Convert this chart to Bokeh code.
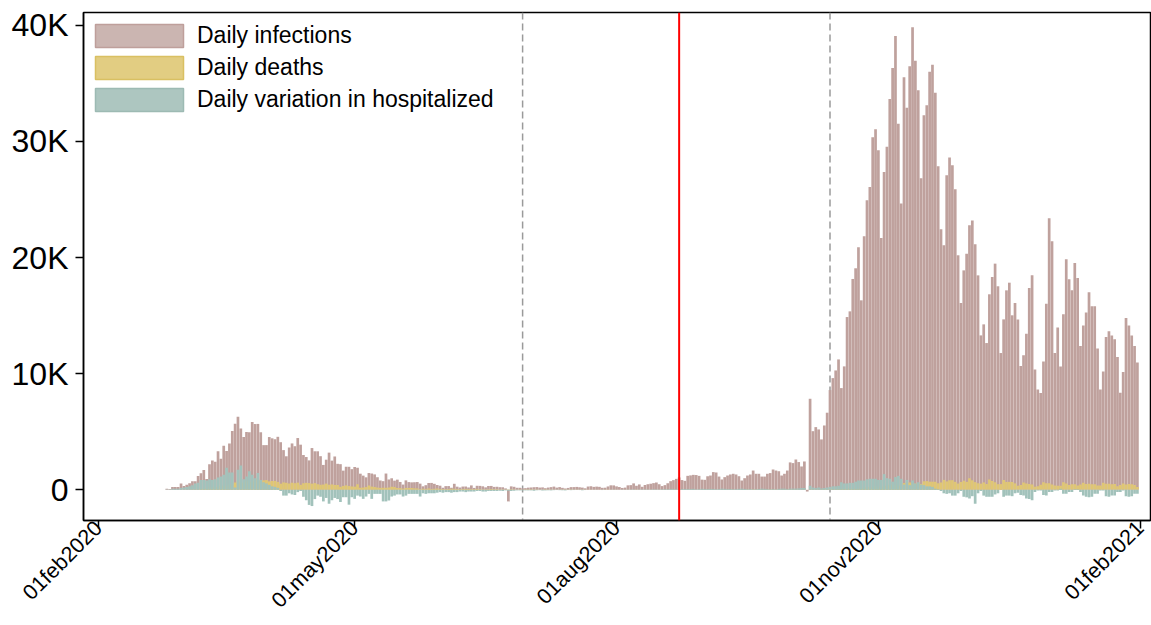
import math
import pandas as pd
from bokeh.plotting import figure
from bokeh.models import (FixedTicker, Span, Legend, LegendItem, ColumnDataSource, Range1d)
from bokeh.embed import file_html
from bokeh.resources import INLINE

# ---------------- data ----------------
START_DATE = "2020-02-25"
ORIGIN = "2020-02-01"
TICK_DATES = ["2020-02-01", "2020-05-01", "2020-08-01", "2020-11-01", "2021-02-01"]
TICK_LABELS = ["01feb2020", "01may2020", "01aug2020", "01nov2020", "01feb2021"]
Y_TICKS = [0, 10000, 20000, 30000, 40000]
Y_LABELS = ["0", "10K", "20K", "30K", "40K"]
DASHED_DATES = ["2020-06-29", "2020-10-15"]
RED_DATE = "2020-08-23"
SERIES_LABELS = ["Daily infections", "Daily deaths", "Daily variation in hospitalized"]

infections = [
    93, 78, 250, 238, 240,  # feb 25-29
    533, 330, 443, 558, 731, 739, 1185, 1417, 1707, 928, 2197, 2518, 2420, 3322, 2682, 3800,
    3350, 3997, 5056, 5687, 6300, 5282, 4550, 4987, 4950, 5845, 5661, 5675, 4956, 3848, 3850,  # mar
    4543, 4435, 4356, 4565, 4100, 3419, 2887, 3644, 3994, 3753, 4459, 3887, 2995, 2823, 2534,
    3597, 3318, 3316, 2895, 2143, 2593, 3202, 2514, 2870, 2239, 2208, 1652, 1986, 1982, 1778,  # apr
    1965, 1900, 1389, 1221, 1075, 1444, 1401, 1327, 1083, 802, 744, 1402, 888, 992, 789, 875,
    675, 451, 813, 665, 642, 652, 669, 531, 300, 397, 584, 593, 516, 416, 355,  # may
    178, 318, 321, 177, 518, 270, 197, 280, 283, 202, 379, 163, 346, 338, 301, 210, 329, 333,
    251, 262, 224, 218, 122, -1000, 296, 259, 175, 174, 126, 142,  # jun
    187, 201, 223, 235, 192, 208, 138, 193, 229, 276, 188, 234, 169, 114, 162, 230, 233, 249,
    219, 190, 129, 282, 306, 252, 275, 255, 170, 181, 289, 386, 379,  # jul
    295, 239, 159, 190, 384, 402, 552, 347, 463, 259, 412, 481, 523, 574, 629, 479, 320, 403,
    565, 744, 833, 942, 1065, 839, 773, 1203, 1242, 1287, 1271, 1201, 876,  # aug
    860, 1167, 1229, 1525, 1492, 1141, 890, 1090, 1230, 1320, 1380, 1320, 1170, 800, 1000,
    1230, 1320, 1660, 1380, 1380, 1140, 1140, 1380, 1440, 1750, 1660, 1600, 1230, 1380, 1660,  # sep
    2360, 2300, 2610, 2390, 2010, 2440, -150, 7840, 5050, 5400, 5200, 4340, 5540, 6640, 8590,
    9620, 10280, 11230, 8760, 10630, 14880, 15370, 18160, 19080, 20890, 16320, 21840, 24940,
    26090, 30370, 31060,  # oct
    29250, 21690, 27380, 29540, 33670, 36320, 39080, 31520, 24660, 35540, 32900, 36490, 39830,
    36950, 34420, 26840, 32270, 33130, 36000, 36600, 34200, 27870, 22440, 21060, 27100, 28620,
    27960, 25890, 20200, 16090,  # nov
    18900, 20340, 22780, 23200, 21150, 18470, 13300, 14250, 12640, 16840, 18330, 19480, 17530,
    11780, 14680, 17180, 17840, 15030, 16090, 14660, 10660, 11580, 13450, 17380, 18470, 10370,
    8650, 8330, 11060, 16030, 23390,  # dec
    21400, 11780, 13990, 10630, 15110, 19850, 18130, 17180, 19540, 18240, 12380, 14160, 15280,
    17010, 15800, 15800, 12180, 8650, 10200, 13160, 13650, 13300, 12960, 11430, 8360, 10140,
    14790, 14160, 13300, 12380, 10970,  # jan
]

deaths = [
    4, 1, 5, 4, 8,
    5, 18, 27, 28, 41, 49, 36, 133, 97, 168, 196, 189, 250, 175, 368, 349, 345, 475, 427, 627,
    793, 651, 601, 743, 683, 712, 919, 889, 756, 812, 837,
    727, 760, 766, 681, 525, 636, 604, 542, 610, 570, 619, 431, 566, 602, 578, 525, 575, 482,
    433, 454, 534, 437, 464, 420, 415, 260, 333, 382, 323, 285,
    269, 474, 174, 195, 236, 369, 274, 243, 194, 165, 179, 172, 195, 262, 242, 153, 145, 99,
    162, 161, 156, 130, 119, 50, 92, 78, 117, 70, 87, 111, 75,
    60, 55, 71, 88, 85, 72, 53, 65, 79, 71, 53, 56, 78, 44, 26, 34, 43, 66, 47, 49, 24, 23, 18,
    30, 34, 30, 8, 24, 6, 23,
    21, 30, 15, 21, 7, 8, 30, 15, 12, 12, 7, 9, 13, 17, 13, 20, 11, 12, 9, 13, 15, 9, 10, 5, 5,
    5, 5, 11, 11, 6, 9,
    8, 2, 5, 6, 10, 3, 3, 13, 4, 2, 6, 10, 6, 3, 6, 4, 4, 7, 6, 3, 9, 3, 7, 4, 4, 13, 5, 9, 1, 7, 4,
    6, 10, 6, 6, 7, 7, 10, 10, 10, 10, 11, 7, 7, 9, 9, 20, 10, 24, 24, 15, 14, 14, 20, 23, 20,
    17, 17, 16, 24, 24,
    23, 22, 27, 18, 16, 28, 0, 53, 28, 29, 26, 39, 41, 43, 83, 55, 47, 69, 73, 89, 127, 136, 91,
    151, 128, 141, 221, 221, 217, 199, 297,
    208, 233, 353, 352, 445, 446, 425, 331, 356, 580, 623, 636, 550, 544, 546, 504, 731, 753,
    699, 699, 692, 562, 630, 853, 722, 822, 827, 686, 541, 672,
    785, 684, 993, 814, 662, 564, 528, 634, 499, 887, 761, 649, 484, 491, 846, 680, 683, 674,
    553, 352, 415, 628, 553, 505, 459, 261, 305, 445, 659, 575, 555,
    462, 364, 347, 348, 649, 548, 414, 483, 483, 361, 448, 616, 507, 522, 475, 477, 377, 377,
    603, 524, 521, 472, 492, 299, 420, 541, 467, 492, 477, 421, 237,
]

hospitalized = [
    20, 20, 100, 100, 100,
    150, 200, 250, 300, 400, 550, 600, 850, 850, 800, 900, 850, 900, 1050, 1150, 1300, 1900,
    1500, 1500, 200, 1720, 2100, 900, 1150, 1600, 1300, 1000, 1450, 850, 650, 550,
    430, 300, 250, 170, -100, -500, -500, -300, -400, -450, -200, -100, -600, -900, -1300,
    -1400, -800, -500, -600, -1000, -700, -1200, -900, -700, -800, -1050, -640, -640, -1280, -640,
    -780, -500, -580, -780, -580, -350, -780, -350, -350, -350, -1000, -1000, -920, -580, -500,
    -400, -400, -580, -500, -350, -350, -350, -350, -580, -300, -350, -300, -300, -300, -250, -200,
    -250, -200, -200, -250, -200, -200, -150, -150, -200, -150, -150, -150, -100, -100, -150,
    -150, -100, -100, -100, -100, -80, -100, -50, -80, -100, -80, -50, -50, -50, -50,
    -50, -50, -80, -40, -30, -60, -50, -40, -50, -30, -20, -30, -40, -50, -20, -30, -20, -10,
    -20, -40, -20, 0, -10, 10, -10, 0, -20, 10, 0, -10, 20,
    10, 0, 20, 10, 20, 20, 30, 10, 20, 30, 30, 30, 20, 40, 30, 20, 40, 50, 40, 60, 50, 40, 50,
    60, 70, 60, 70, 80, 40, 50, 90,
    70, 60, 80, 70, 50, 60, 100, 80, 60, 70, 50, 60, 80, 100, 70, 50, 60, 40, 50, 70, 100, 80,
    60, 50, 60, 40, 80, 100, 100, 60,
    100, 100, 100, 120, 150, 150, 0, 350, 200, 150, 200, 120, 150, 200, 250, 300, 300, 350,
    650, 550, 550, 600, 600, 700, 800, 800, 800, 900, 950, 950, 950,
    850, 850, 1350, 1000, 950, 700, 1100, 1200, 950, 450, 850, 400, 800, 550, 650, 450, 400,
    300, 300, 250, 100, 50, -100, -300, -350, -300, -500, -500, -300, -100,
    -600, -650, -750, -550, -1200, -300, -100, -500, -600, -600, -600, -400, -300, 0, -600,
    -500, -500, -550, -300, -250, -450, -500, -750, -800, -900, -200, -50, -50, -450, -500, -200,
    -200, -50, -50, 100, -350, -350, -200, -200, 50, 50, -200, -500, -600, -650, -600, -350,
    -350, -50, -50, -550, -600, -500, -500, -200, -200, -50, -550, -600, -550, -350, -350,
]

assert len(infections) == len(deaths) == len(hospitalized)

# ---------------- style ----------------
BAR_COLORS = ["#BFA19D", "#DFC674", "#A2C2BB"]
LEG_FILL = ["#CBB5B1", "#E2CD82", "#ADC6C0"]
LEG_LINE = ["#BE9F9B", "#D9C062", "#9DBAB3"]
FONT = "Liberation Sans"

origin = pd.Timestamp(ORIGIN)


def day(s):
    return (pd.Timestamp(s) - origin).days


dates = pd.date_range(START_DATE, periods=len(infections), freq="D")
xs = [(d - origin).days for d in dates]

src = ColumnDataSource(dict(x=xs, inf=infections, dth=deaths, hosp=hospitalized))

p = figure(width=1151, height=625, output_backend="svg", toolbar_location=None,
           x_range=Range1d(-5.27, 369.6), y_range=Range1d(-2644, 41111),
           min_border_left=83, min_border_right=1, min_border_top=12, min_border_bottom=105)
p.xgrid.visible = False
p.ygrid.visible = False
p.outline_line_color = "black"
p.outline_line_width = 1.5
p.background_fill_color = "white"
p.border_fill_color = "white"

for d in DASHED_DATES:
    p.add_layout(Span(location=day(d), dimension="height", line_color="#9A9A9A",
                      line_dash="7 4", line_width=1.5, level="underlay"))

for col, color in zip(["inf", "dth", "hosp"], BAR_COLORS):
    p.vbar(x="x", top=col, bottom=0, width=0.95, source=src,
           fill_color=color, line_color=None)

p.add_layout(Span(location=day(RED_DATE), dimension="height", line_color="#FF0000",
                  line_width=2))

# legend-only renderers (their single point is NaN, so nothing is drawn in the plot)
items = []
for lab, fc, lc in zip(SERIES_LABELS, LEG_FILL, LEG_LINE):
    r = p.vbar(x=[float("nan")], top=[float("nan")], width=0.9,
               fill_color=fc, line_color=lc, line_width=1.5)
    items.append(LegendItem(label=lab, renderers=[r]))

legend = Legend(items=items, location=(1, 406), orientation="vertical",
                glyph_width=110, glyph_height=29, label_height=29, label_standoff=3,
                spacing=3, padding=0, margin=0, border_line_color=None,
                background_fill_alpha=0, label_text_font=FONT,
                label_text_font_size="23px", label_text_color="black")
p.add_layout(legend)

# axes
p.yaxis.ticker = FixedTicker(ticks=Y_TICKS)
p.yaxis.major_label_overrides = {t: l for t, l in zip(Y_TICKS, Y_LABELS)}
p.xaxis.ticker = FixedTicker(ticks=[day(d) for d in TICK_DATES])
p.xaxis.major_label_overrides = {day(d): l for d, l in zip(TICK_DATES, TICK_LABELS)}
p.xaxis.major_label_orientation = math.pi / 4

for ax in (p.xaxis, p.yaxis):
    ax.axis_line_color = "black"
    ax.axis_line_width = 1.5
    ax.major_tick_line_color = "black"
    ax.major_tick_line_width = 1.5
    ax.major_tick_out = 8
    ax.major_tick_in = 0
    ax.minor_tick_line_color = None
    ax.major_label_text_font = FONT
    ax.major_label_text_color = "black"

p.yaxis.major_label_text_font_size = "32px"
p.yaxis.major_label_standoff = 7
p.xaxis.major_label_text_font_size = "21.5px"
p.xaxis.major_label_standoff = -4

open("out.html", "w").write(file_html(p, INLINE))
